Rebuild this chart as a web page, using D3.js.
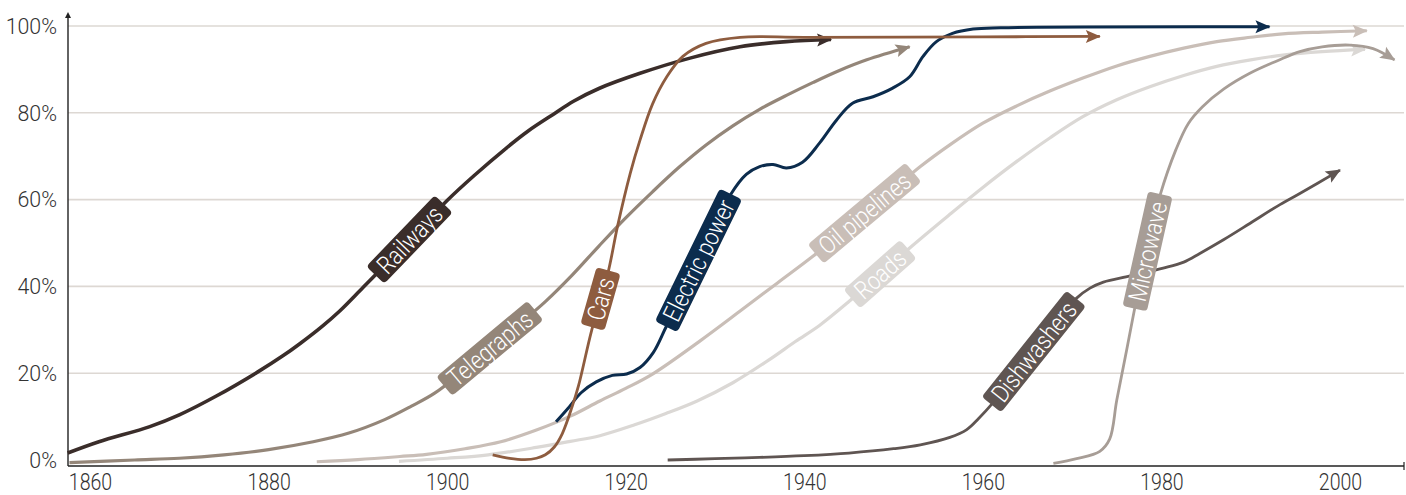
<!DOCTYPE html>
<html>
<head>
<meta charset="utf-8">
<script src="https://cdn.jsdelivr.net/npm/d3@7"></script>
<style>
  html, body { margin: 0; padding: 0; background: #fff; }
  svg { display: block; }
  text { font-family: Roboto, 'Liberation Sans', Arial, sans-serif; font-weight: 300; }
</style>
</head>
<body>
<svg id="chart" width="1406" height="495"></svg>
<script>
// ---------- DATA (year, % of adoption) ----------
const railways = [[1857.5,1.6],[1861,4.2],[1866.7,7.7],[1870,10.4],[1874.2,14.8],[1878.8,20.3],[1881.6,24],[1883.5,26.8],[1886,30.8],[1888,34.4],[1890.6,39.8],[1893,44.8],[1896,51.2],[1900,59.8],[1903,65.5],[1906.7,72],[1909,75.7],[1912,79.8],[1914.1,82.6],[1917,85.6],[1921.6,89.1],[1927.2,92.6],[1932.8,95.2],[1938,96.4],[1943,96.9]];
const telegraphs = [[1857.7,-0.6],[1865,0],[1870,0.4],[1875,1.2],[1880,2.4],[1885,4.2],[1889,6.2],[1893,9.3],[1896,12.4],[1898.6,15.4],[1902,20.8],[1905,26],[1908,31.2],[1911,36.5],[1914,42.6],[1917,49.3],[1920,55.8],[1923,61.8],[1926,67.5],[1929,72.6],[1932,77],[1935,80.8],[1938,84],[1941,87],[1944,89.8],[1947,92.2],[1951.8,95.2]];
const cars = [[1905.1,1.2],[1907,0.4],[1908.7,0.1],[1910,0.4],[1911,1.2],[1912,3],[1912.9,6.1],[1914,12.3],[1914.7,17],[1916.2,30],[1918,43],[1919.1,54],[1920.5,66],[1921.6,73.7],[1923,82],[1924.6,88.3],[1926.4,93],[1929,96],[1932.8,97.4],[1940,97.4],[1960,97.5],[1973.1,97.6]];
const electricPower = [[1912.2,8.8],[1913.5,11.8],[1915,15.5],[1916.7,18],[1918.5,19.5],[1920.1,19.8],[1921.6,21.3],[1923.1,24.8],[1924.6,31],[1926.5,38.5],[1928.2,46.5],[1930,54],[1931.7,61],[1933.5,65.8],[1935,67.6],[1936.5,68.1],[1938,67.3],[1939.8,68.6],[1941.7,73],[1943.6,78.3],[1945.4,82.2],[1947.7,83.7],[1949.9,85.7],[1951.8,88.3],[1953.3,93],[1954.8,96.4],[1956.6,98.3],[1958.9,99.3],[1962,99.6],[1992.1,99.8]];
const oilPipelines = [[1885.4,-0.4],[1890,0.1],[1894.7,0.8],[1897.7,1.3],[1902,2.6],[1906,4.2],[1910,6.9],[1913.8,10.1],[1917.1,13.6],[1920,16.5],[1923,19.8],[1928.3,27.4],[1933,34.6],[1937,40.8],[1941,47],[1945,53.6],[1950,62.4],[1953,67.6],[1956.3,72.6],[1960,77.6],[1963.8,81.6],[1967.5,85],[1971.2,88],[1975,90.8],[1978.7,93],[1982.5,94.9],[1986.2,96.4],[1990,97.4],[1993.6,98.2],[1998,98.6],[2003,98.9]];
const roads = [[1894.6,-0.3],[1900,0.4],[1904.6,1.2],[1910,2.9],[1913.8,4.3],[1917.1,5.6],[1921,8.1],[1924.5,10.7],[1928,13.6],[1932,17.8],[1936,23],[1939,27.3],[1941.7,31],[1945,36.5],[1948.5,42.8],[1952,49.2],[1956.3,56.6],[1960,62.8],[1963.8,68.8],[1967.5,74.2],[1971.2,79.1],[1975,83],[1978.7,86],[1982.5,88.6],[1986.2,90.7],[1990,92.2],[1993.6,93.3],[1998,94.1],[2002.8,94.6]];
const dishwashers = [[1924.7,0],[1930,0.3],[1935,0.6],[1940,1],[1945,1.6],[1950,2.6],[1953,3.5],[1956.3,5.2],[1958.2,7],[1959.5,9.5],[1961.1,13.1],[1963,18],[1965.7,25],[1968.5,32.5],[1970.5,37.3],[1972,39.6],[1973.5,41],[1976.5,42.4],[1980.2,44.2],[1982.5,45.6],[1984.3,47.6],[1987,50.8],[1989.9,54.5],[1993,58.5],[1995.5,61.4],[2000,66.8]];
const microwave = [[1967.9,-0.8],[1970.5,0.3],[1973.1,2],[1974.2,4.8],[1975,13.8],[1976.1,25.3],[1977.3,38],[1978.5,50],[1979.8,60.7],[1981.6,71.4],[1983,77.5],[1984.6,81.4],[1987,85.5],[1989.9,89.1],[1993,92],[1995.5,94.1],[1998,95.2],[2001.1,95.6],[2003.7,94.8],[2006.1,92.2]];

const seriesNames = ["Roads","Oil pipelines","Telegraphs","Railways","Dishwashers","Microwave","Electric power","Cars"];
const seriesData  = [roads, oilPipelines, telegraphs, railways, dishwashers, microwave, electricPower, cars];
const labelYears  = [1948.5, 1946.8, 1904.8, 1895.8, 1965.7, 1978.3, 1928.1, 1917.2];

const xTickValues = [1860,1880,1900,1920,1940,1960,1980,2000];
const yTickValues = [0,20,40,60,80,100];
const yGridValues = [20,40,60,80,100];

// ---------- STYLE ----------
const colors = {
  "Railways": "#3a2d2a",
  "Telegraphs": "#948679",
  "Cars": "#8e5c3f",
  "Electric power": "#0c2c4d",
  "Oil pipelines": "#c9beb7",
  "Roads": "#dbd8d5",
  "Dishwashers": "#5f5552",
  "Microwave": "#a79d96"
};
const widths = {
  "Railways": 3.6, "Telegraphs": 3.2, "Cars": 2.8, "Electric power": 3.0,
  "Oil pipelines": 3.2, "Roads": 3.2, "Dishwashers": 2.8, "Microwave": 2.8
};
const NARROW = 0.85;   // horizontal squeeze to imitate a condensed face
const NARROW_Y = 0.93;
const FONT = "Roboto, 'Liberation Sans', Arial, sans-serif";

const plotLeft = 68, plotRight = 1404, axisY = 466, axisTop = 12;

const x = d3.scaleLinear().domain([1860, 2000]).range([90, 1340]);
const y = d3.scaleLinear().domain([0, 100]).range([460, 26]);

const svg = d3.select("#chart");
const defs = svg.append("defs");

// gridlines
svg.append("g").selectAll("line").data(yGridValues).join("line")
  .attr("x1", plotLeft).attr("x2", plotRight)
  .attr("y1", d => y(d)).attr("y2", d => y(d))
  .attr("stroke", "#ddd8d3").attr("stroke-width", 1.6);

// x axis
const xAxis = d3.axisBottom(x).tickValues(xTickValues).tickFormat(d3.format("d")).tickSize(0).tickPadding(8);
const gx = svg.append("g").attr("transform", `translate(0,${axisY})`).call(xAxis);
gx.select(".domain").remove();
gx.selectAll("text").attr("font-size", 23).attr("fill", "#333")
  .attr("transform", `scale(${NARROW},1)`)
  .style("font-family", FONT).style("font-weight", 300);

// y axis labels
const yAxis = d3.axisLeft(y).tickValues(yTickValues).tickFormat(d => d + "%").tickSize(0).tickPadding(11);
const gy = svg.append("g").attr("transform", `translate(${plotLeft},0)`).call(yAxis);
gy.select(".domain").remove();
gy.selectAll("text").attr("font-size", 23).attr("fill", "#333")
  .attr("x", -11 / NARROW_Y)
  .attr("transform", `scale(${NARROW_Y},1)`)
  .style("font-family", FONT).style("font-weight", 300);

// axis lines
svg.append("line").attr("x1", plotLeft).attr("x2", plotRight).attr("y1", axisY).attr("y2", axisY)
  .attr("stroke", "#222").attr("stroke-width", 1.4);
svg.append("line").attr("x1", plotLeft).attr("x2", plotLeft).attr("y1", axisY).attr("y2", axisTop + 4)
  .attr("stroke", "#222").attr("stroke-width", 1.4);
svg.append("path").attr("d", `M${plotLeft-3},${axisTop+6}L${plotLeft},${axisTop}L${plotLeft+3},${axisTop+6}Z`).attr("fill", "#222");
svg.append("line").attr("x1", plotRight).attr("x2", plotRight).attr("y1", axisY - 4).attr("y2", axisY + 4)
  .attr("stroke", "#222").attr("stroke-width", 1.2);

// arrow markers
seriesNames.forEach((name, i) => {
  defs.append("marker")
    .attr("id", "arrow" + i)
    .attr("markerUnits", "userSpaceOnUse")
    .attr("viewBox", "-15 -8 17 16")
    .attr("markerWidth", 17).attr("markerHeight", 16)
    .attr("refX", 0).attr("refY", 0)
    .attr("orient", "auto")
    .append("path")
    .attr("d", "M-14,-6.5L1,0L-14,6.5L-11,0Z")
    .attr("fill", colors[name]);
});

const line = d3.line().x(d => x(d[0])).y(d => y(d[1])).curve(d3.curveCatmullRom.alpha(0.5));

const linesG = svg.append("g");
const paths = seriesNames.map((name, i) =>
  linesG.append("path")
    .datum(seriesData[i])
    .attr("d", line)
    .attr("fill", "none")
    .attr("stroke", colors[name])
    .attr("stroke-width", widths[name])
    .attr("stroke-linejoin", "round")
    .attr("marker-end", "url(#arrow" + i + ")")
    .node()
);

// labels along the lines
const labelsG = svg.append("g");
seriesNames.forEach((name, i) => {
  const p = paths[i];
  const total = p.getTotalLength();
  const tx = x(labelYears[i]);
  let lo = 0, hi = total;
  for (let k = 0; k < 40; k++) {
    const mid = (lo + hi) / 2;
    if (p.getPointAtLength(mid).x < tx) lo = mid; else hi = mid;
  }
  const Lc = (lo + hi) / 2;
  const g = labelsG.append("g");
  const t = g.append("text")
    .text(name)
    .attr("font-size", 25)
    .attr("fill", "#fff")
    .attr("text-anchor", "middle")
    .attr("dy", "0.36em")
    .attr("transform", `scale(${NARROW},1)`)
    .style("font-family", FONT).style("font-weight", 300);
  const tw = t.node().getComputedTextLength() * NARROW;
  const rw = tw + 16, rh = 25;
  const p1 = p.getPointAtLength(Math.max(0, Lc - rw / 2));
  const p2 = p.getPointAtLength(Math.min(total, Lc + rw / 2));
  const ang = Math.atan2(p2.y - p1.y, p2.x - p1.x) * 180 / Math.PI;
  const cx = (p1.x + p2.x) / 2, cy = (p1.y + p2.y) / 2;
  g.attr("transform", `translate(${cx},${cy}) rotate(${ang})`);
  g.insert("rect", "text")
    .attr("x", -rw / 2).attr("y", -rh / 2)
    .attr("width", rw).attr("height", rh)
    .attr("rx", 4).attr("ry", 4)
    .attr("fill", colors[name]);
});
</script>
</body>
</html>
